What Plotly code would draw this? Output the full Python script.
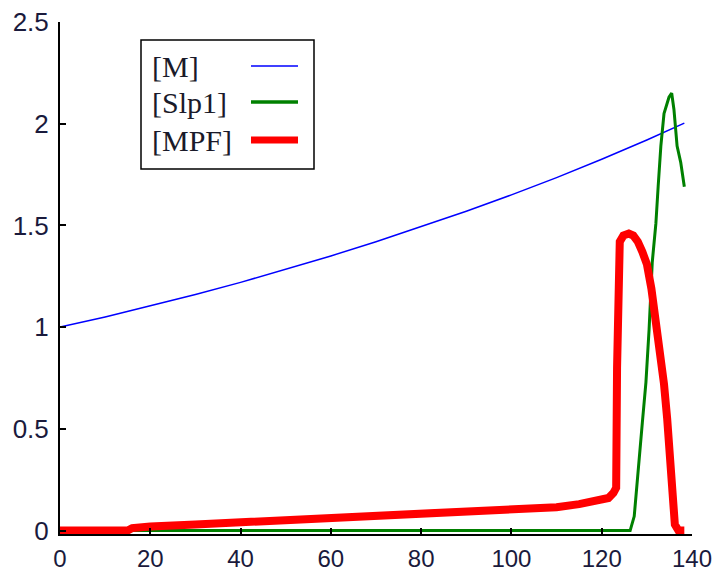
import plotly.graph_objects as go

# --- data -------------------------------------------------------------
# [M]: slowly growing concentration
m_t = [0, 10, 20, 30, 40, 50, 60, 70, 80, 90, 100, 110, 120, 130, 138.3]
m_v = [1.00, 1.05, 1.105, 1.16, 1.22, 1.285, 1.35, 1.42, 1.495, 1.57, 1.65,
       1.735, 1.825, 1.92, 2.003]

# [Slp1]: silent until ~127, then a sharp burst
slp_t = [0, 126.3, 127.2, 128.3, 129.0, 129.8, 130.5, 131.2, 132.0, 132.5,
         133.1, 133.8, 134.9, 135.5, 136.0, 136.7, 137.5, 138.3]
slp_v = [0, 0, 0.07, 0.33, 0.53, 0.73, 0.99, 1.32, 1.51, 1.69,
         1.89, 2.05, 2.13, 2.15, 2.07, 1.89, 1.81, 1.69]

# [MPF]: slow build-up, switch-like jump, then degradation
mpf_t = [0, 15, 16, 20, 30, 40, 50, 60, 70, 80, 90, 100, 110, 115, 119.5,
         121.5, 122.6, 123.2, 123.4, 123.6, 124.0, 124.8, 126.0, 127.0,
         128.0, 129.0, 130.0, 131.0, 132.0, 133.0, 133.8, 134.5, 135.1,
         135.6, 136.2, 137.0, 138.3]
mpf_v = [0, 0, 0.012, 0.02, 0.03, 0.04, 0.05, 0.06, 0.07, 0.08, 0.09, 0.10,
         0.115, 0.13, 0.145, 0.16, 0.185, 0.21, 0.80, 1.35, 1.42, 1.45, 1.46,
         1.45, 1.42, 1.37, 1.31, 1.19, 1.04, 0.88, 0.72, 0.55, 0.33, 0.14,
         0.03, 0.0, 0.0]

names = ["[M]", "[Slp1]", "[MPF]"]
colors = ["#0000ff", "#008000", "#ff0000"]
widths = [1.5, 3, 8]

x_ticks = [0, 20, 40, 60, 80, 100, 120, 140]
y_ticks = [0, 0.5, 1, 1.5, 2, 2.5]
y_labels = ["0", "0.5", "1", "1.5", "2", "2.5"]

# --- figure -----------------------------------------------------------
W, H = 717, 574
ML, MR, MT, MB = 60, 25, 22, 40

fig = go.Figure()
for t, v, c, w, n in zip([m_t, slp_t, mpf_t], [m_v, slp_v, mpf_v],
                         colors, widths, names):
    fig.add_trace(go.Scatter(x=t, y=v, mode="lines", name=n,
                             line=dict(color=c, width=w),
                             showlegend=False))

font_family = "Liberation Sans, Arial, sans-serif"
label_color = "#1a1a3c"

fig.update_xaxes(range=[0, 140], tickvals=x_ticks, ticks="inside",
                 ticklen=6, tickwidth=1.5, tickcolor="black",
                 showline=True, linecolor="black", linewidth=2,
                 showgrid=False, zeroline=False,
                 tickfont=dict(family=font_family, size=24, color=label_color),
                 ticklabelstandoff=2, automargin=False)
fig.update_yaxes(range=[-0.017, 2.5], tickvals=y_ticks, ticktext=y_labels,
                 ticks="inside", ticklen=6, tickwidth=1.5, tickcolor="black",
                 showline=True, linecolor="black", linewidth=2,
                 showgrid=False, zeroline=False,
                 tickfont=dict(family=font_family, size=26, color=label_color),
                 ticklabelstandoff=4, automargin=False)

# --- hand-built legend: label on the left, line sample on the right ----
pw, ph = W - ML - MR, H - MT - MB


def px(x):
    return (x - ML) / pw


def py(y):
    return (H - MB - y) / ph


shapes = [dict(type="rect", xref="paper", yref="paper",
               x0=px(141), x1=px(314), y0=py(169), y1=py(40),
               line=dict(color="black", width=1.5), fillcolor="white",
               layer="above")]
annotations = []
row_y = [66, 102, 140]
for n, c, w, ry in zip(names, colors, widths, row_y):
    lw = {1.5: 1.5, 3: 3.5, 8: 7}[w]
    shapes.append(dict(type="line", xref="paper", yref="paper",
                       x0=px(251), x1=px(298), y0=py(ry), y1=py(ry),
                       line=dict(color=c, width=lw), layer="above"))
    annotations.append(dict(text=n, xref="paper", yref="paper",
                            x=px(150), y=py(ry), xanchor="left",
                            yanchor="middle", showarrow=False,
                            font=dict(family="Liberation Serif, Times New Roman, serif",
                                      size=30, color="#1a1a2a")))

fig.update_layout(width=W, height=H,
                  margin=dict(l=ML, r=MR, t=MT, b=MB, pad=0),
                  paper_bgcolor="white", plot_bgcolor="white",
                  shapes=shapes, annotations=annotations)

fig.write_html("out.html")
